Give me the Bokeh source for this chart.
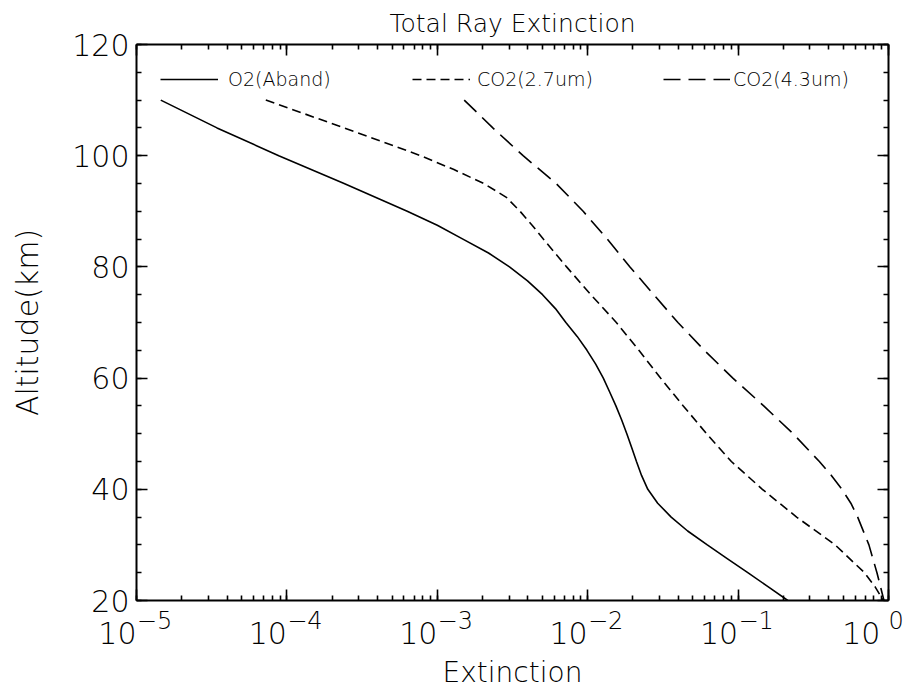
from bokeh.plotting import figure
from bokeh.models import (LogAxis, LinearAxis, LogTicker, SingleIntervalTicker,
                          CustomJSTickFormatter, Legend, LegendItem, Range1d)
from bokeh.embed import file_html
from bokeh.resources import INLINE

# O2 A-band: altitude (km) and total ray extinction
alt_o2 = [110, 105, 100, 95, 90, 87.5, 85, 82.5, 80, 77.5, 75, 72.5, 70, 67.5, 65, 62.5, 60,
          57.5, 55, 52.5, 50, 47.5, 45, 42.5, 40, 37.5, 35, 32.5, 30, 27.5, 25, 22.5, 20]
ext_o2 = [1.45e-5, 3.43e-5, 8.83e-5, 2.40e-4, 6.31e-4, 1.00e-3, 1.48e-3, 2.19e-3, 3.02e-3,
          3.98e-3, 5.01e-3, 6.10e-3, 7.16e-3, 8.51e-3, 9.89e-3, 1.13e-2, 1.27e-2, 1.40e-2,
          1.54e-2, 1.68e-2, 1.82e-2, 1.96e-2, 2.11e-2, 2.28e-2, 2.51e-2, 2.92e-2, 3.59e-2,
          4.62e-2, 6.24e-2, 8.51e-2, 0.116, 0.158, 0.214]

# CO2 2.7 um band
alt_co2_27 = [110, 107.5, 105, 102.5, 100, 97.5, 95, 92.5, 90, 87.5, 85, 80, 75, 70, 65, 60,
              55, 50, 45, 40, 35, 30, 25, 22.5, 20]
ext_co2_27 = [7.24e-5, 1.32e-4, 2.40e-4, 4.32e-4, 7.76e-4, 1.29e-3, 2.04e-3, 2.88e-3, 3.55e-3,
              4.27e-3, 5.07e-3, 7.24e-3, 1.05e-2, 1.55e-2, 2.19e-2, 3.05e-2, 4.32e-2, 6.17e-2,
              9.02e-2, 0.145, 0.245, 0.442, 0.692, 0.813, 0.923]

# CO2 4.3 um band
alt_co2_43 = [110, 105, 100, 95, 90, 85, 80, 75, 70, 65, 60, 55, 50, 45, 42.5, 40, 37.5, 35,
              30, 25, 20]
ext_co2_43 = [1.51e-3, 2.34e-3, 3.72e-3, 6.17e-3, 9.33e-3, 1.35e-2, 1.91e-2, 2.75e-2, 3.98e-2,
              5.96e-2, 9.23e-2, 0.148, 0.232, 0.347, 0.417, 0.490, 0.562, 0.624, 0.741, 0.838,
              0.933]

x_tick_base = "10"
x_tick_exponents = [-5, -4, -3, -2, -1, 0]
x_limits = (1e-5, 1.0)
y_limits = (20, 120)

FONT = "DejaVu Sans Light"
INK = "black"

p = figure(frame_width=752, frame_height=556,
           x_axis_type="log",
           x_range=Range1d(*x_limits), y_range=Range1d(*y_limits),
           output_backend="svg", toolbar_location=None,
           min_border_left=136, min_border_right=30,
           min_border_top=43, min_border_bottom=88,
           title="Total Ray Extinction")

p.title.text_font = FONT
p.title.text_font_size = "25px"
p.title.text_font_style = "normal"
p.title.align = "center"
p.title.text_color = INK
p.title.standoff = 13
p.outline_line_color = None
p.grid.visible = False
p.background_fill_color = "white"
p.border_fill_color = "white"

x_ticker = LogTicker(num_minor_ticks=10)
y_ticker = SingleIntervalTicker(interval=20, num_minor_ticks=4)
blank = CustomJSTickFormatter(code="return ''")


def style_axis(ax):
    ax.axis_line_width = 2
    ax.axis_line_color = INK
    ax.major_tick_in = 11
    ax.major_tick_out = 0
    ax.minor_tick_in = 5
    ax.minor_tick_out = 0
    ax.major_tick_line_width = 1.6
    ax.minor_tick_line_width = 1.6
    ax.major_tick_line_color = INK
    ax.minor_tick_line_color = INK
    ax.major_label_text_font = FONT
    ax.major_label_text_color = INK
    ax.axis_label_text_font = FONT
    ax.axis_label_text_font_style = "normal"
    ax.axis_label_text_color = INK


# Decade labels are split in two rows: the raised exponent (nearest the frame,
# starting at the tick) and the "10" base (ending at the tick).  Labels are
# centred on the tick, so each one is padded with blank space on one side.
xa = p.xaxis[0]
xa.ticker = x_ticker
xa.formatter = CustomJSTickFormatter(
    args=dict(exps=x_tick_exponents),
    code="""
        const e = Math.round(Math.log10(tick));
        if (!exps.includes(e)) return '';
        const txt = String(e).replace('-', '\\u2212');
        const pad = e < 0 ? '\\u2003\\u2002' : '\\u2007';
        return pad + txt;
    """)
style_axis(xa)
xa.major_label_text_font_size = "24px"
xa.major_label_standoff = 6

xb = LogAxis(ticker=x_ticker,
             formatter=CustomJSTickFormatter(args=dict(base=x_tick_base),
                                             code="return base + '\\u2007\\u2007';"))
style_axis(xb)
xb.axis_line_color = None
xb.major_tick_line_color = None
xb.minor_tick_line_color = None
xb.major_tick_in = 0
xb.minor_tick_in = 0
xb.major_label_text_font_size = "30px"
xb.major_label_standoff = -22
xb.axis_label = "Extinction"
xb.axis_label_text_font_size = "28px"
xb.axis_label_standoff = 2
p.add_layout(xb, "below")

ya = p.yaxis[0]
ya.ticker = y_ticker
style_axis(ya)
ya.major_label_text_font_size = "30px"
ya.major_label_standoff = 7
ya.axis_label = "Altitude(km)"
ya.axis_label_text_font_size = "30px"
ya.axis_label_standoff = 24

top_axis = LogAxis(ticker=x_ticker, formatter=blank)
style_axis(top_axis)
top_axis.major_label_standoff = 0
p.add_layout(top_axis, "above")

right_axis = LinearAxis(ticker=y_ticker, formatter=blank)
style_axis(right_axis)
right_axis.major_label_standoff = 0
p.add_layout(right_axis, "right")

r_o2 = p.line(ext_o2, alt_o2, line_color=INK, line_width=1.6)
r_27 = p.line(ext_co2_27, alt_co2_27, line_color=INK, line_width=1.6, line_dash="9 5")
r_43 = p.line(ext_co2_43, alt_co2_43, line_color=INK, line_width=1.6, line_dash="17 8")


def legend_for(label, renderer, x, glyph_width, standoff):
    return Legend(items=[LegendItem(label=label, renderers=[renderer])],
                  location=(x, 510), orientation="horizontal",
                  border_line_alpha=0, background_fill_alpha=0,
                  padding=0, margin=0, spacing=0,
                  glyph_width=glyph_width, glyph_height=20, label_height=20,
                  label_standoff=standoff,
                  label_text_font=FONT, label_text_font_size="19px",
                  label_text_color=INK)


p.add_layout(legend_for("O2(Aband)", r_o2, 24, 58, 10), "center")
p.add_layout(legend_for("CO2(2.7um)", r_27, 276, 58, 7), "center")
p.add_layout(legend_for("CO2(4.3um)", r_43, 527, 67, 3), "center")

open("out.html", "w").write(file_html(p, INLINE))
